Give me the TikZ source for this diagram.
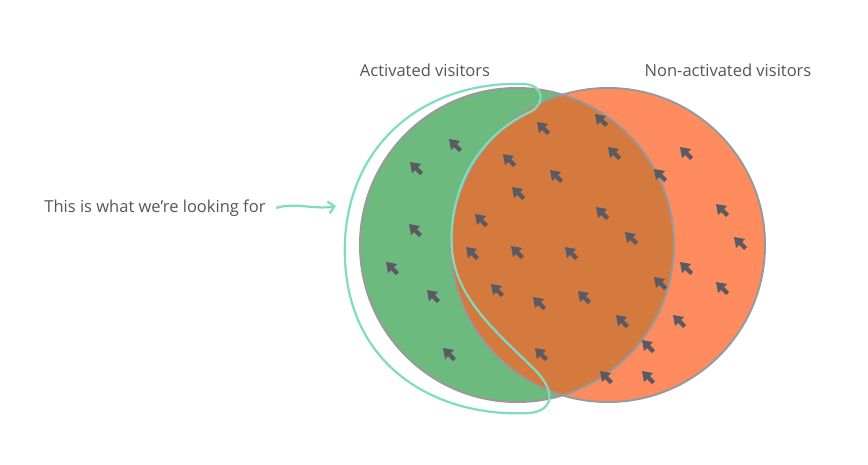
\documentclass[tikz,border=0pt]{standalone}
\usepackage{fontspec}
\setmainfont{Open Sans}
\usetikzlibrary{arrows.meta}
\definecolor{gr}{HTML}{6DBA7E}
\definecolor{orn}{HTML}{FF8C5E}
\definecolor{ovl}{HTML}{D47A3E}
\definecolor{teal}{HTML}{7DDDBE}
\definecolor{txt}{HTML}{55555C}
\definecolor{cur}{HTML}{5B5A62}
\begin{document}
\begin{tikzpicture}[x=1pt,y=-1pt,
  lbl/.style={font=\fontsize{16.5}{18}\selectfont,text=txt},
  cursor/.pic={\fill[cur] (-6,-6) -- (-4,5) -- (-1,2) -- (4,7) -- (7,4) -- (2,-1) -- (5,-4) -- cycle;}]
\useasboundingbox (0,0) rectangle (868,464);
\fill[white] (0,0) rectangle (868,464);
\fill[gr] (517,245) circle (157);
\fill[orn] (608,245) circle (157);
\begin{scope}
\clip (517,245) circle (157);
\fill[ovl] (608,245) circle (157);
\end{scope}
\draw[gray!80, line width=2] (517,245) circle (157);
\draw[gray!80, line width=2] (608,245) circle (157);
\foreach \p in {(455,145),(543,128),(601,120),(416,168),(509,160),(556,176),(614,153),(686,153),(660,175),(518,193),(722,210),(481,220),(602,213),(415,230),(631,238),(740,243),(472,253),(517,252),(571,253),(392,268),(686,268),(660,283),(433,296),(497,290),(539,303),(584,297),(722,288),(622,321),(679,321),(449,354),(541,354),(648,346),(606,377),(648,377)}
  \pic at \p {cursor};
\draw[teal, line width=2.2, line join=round] (525,84) .. controls (545,86) and (545,105) .. (530,112)
  .. controls (470,140) and (448,200) .. (452,250)
  .. controls (456,300) and (500,335) .. (535,370)
  .. controls (555,390) and (555,410) .. (530,413)
  .. controls (440,418) and (350,370) .. (345,260)
  .. controls (340,150) and (420,80) .. (525,84);
\node[lbl] (t1) at (155,208) {This is what we’re looking for};
\node[lbl] (t2) at (425,70) {Activated visitors};
\node[lbl] (t3) at (728,70) {Non-activated visitors};
\coordinate (a1) at (276,208);
\coordinate (a2) at (336,206);
\draw[teal, line width=2.2, -{Straight Barb[length=6pt,width=12pt]}] (a1) .. controls (295,202) and (315,210) .. (a2);
\end{tikzpicture}
\end{document}
